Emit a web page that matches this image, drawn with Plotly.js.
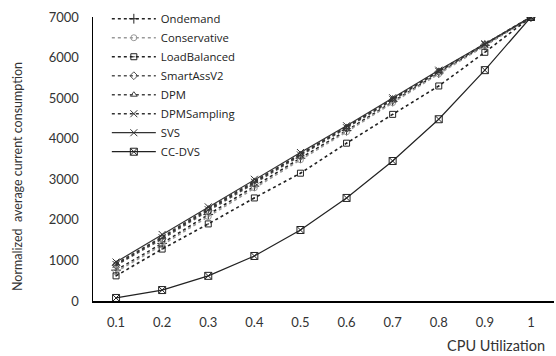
<!DOCTYPE html>
<html><head><meta charset="utf-8">
<script src="https://cdn.plot.ly/plotly-3.0.1.min.js"></script>
<style>html,body{margin:0;padding:0;background:#fff}#c{width:556px;height:356px}</style>
</head><body><div id="c"></div>
<script>
var xVals = [0.1,0.2,0.3,0.4,0.5,0.6,0.7,0.8,0.9,1];
var xTickText = ["0.1","0.2","0.3","0.4","0.5","0.6","0.7","0.8","0.9","1"];
var ondemand    = [760, 1420, 2130, 2830, 3520, 4200, 4920, 5620, 6300, 7000];
var conservative= [720, 1380, 2080, 2790, 3480, 4170, 4890, 5600, 6290, 7000];
var loadBalanced= [620, 1280, 1900, 2540, 3150, 3890, 4600, 5300, 6130, 7000];
var smartAssV2  = [880, 1530, 2220, 2900, 3570, 4250, 4950, 5650, 6320, 7000];
var dpm         = [920, 1580, 2280, 2960, 3620, 4290, 4990, 5670, 6330, 7000];
var dpmSampling = [900, 1560, 2250, 2930, 3600, 4270, 4970, 5660, 6320, 7000];
var svs         = [960, 1640, 2320, 3000, 3660, 4320, 5010, 5690, 6340, 7000];
var ccdvs       = [75, 270, 620, 1110, 1750, 2540, 3450, 4480, 5690, 7000];

function tr(name, y, dash, sym, color, msize){
  return {x:xVals, y:y, name:name, type:'scatter', mode:'lines+markers',
    line:{color:color, width:dash==='dot'?1.6:1.2, dash:dash},
    marker:{symbol:sym, size:msize||6, color:color, line:{color:color, width:1}}};
}
var data = [
  tr('Ondemand', ondemand, 'dot', 'cross-thin-open', '#222', 7),
  tr('Conservative', conservative, 'dot', 'circle-open', '#999'),
  tr('LoadBalanced', loadBalanced, 'dot', 'square-open-dot', '#222'),
  tr('SmartAssV2', smartAssV2, 'dot', 'diamond-open', '#555'),
  tr('DPM', dpm, 'dot', 'triangle-up-open', '#444'),
  tr('DPMSampling', dpmSampling, 'dot', 'x-thin-open', '#333', 7),
  tr('SVS', svs, 'solid', 'x-thin-open', '#333', 7),
  tr('CC-DVS', ccdvs, 'solid', 'square-x-open', '#222', 7)
];
var fam = 'Lato, "Open Sans", sans-serif';
var layout = {
  width:556, height:356, margin:{l:93, r:2, t:17, b:55},
  paper_bgcolor:'#fff', plot_bgcolor:'#fff', font:{family:fam, size:13, color:'#333'}, showlegend:true,
  xaxis:{range:[0.05,1.05], tickvals:xVals, ticktext:xTickText, showgrid:false, zeroline:false,
    showline:true, linecolor:'#000', linewidth:1.5, ticks:'', ticklabelstandoff:9,
    tickfont:{family:fam, size:13, color:'#333'}},
  yaxis:{range:[0,7000], dtick:1000, tick0:0, showgrid:false, zeroline:false,
    showline:true, linecolor:'#000', linewidth:1.5, ticks:'', ticklabelstandoff:10,
    tickfont:{family:fam, size:13, color:'#333'}},
  legend:{x:0.03, y:1.045, xanchor:'left', yanchor:'top', bgcolor:'rgba(0,0,0,0)',
    font:{family:'"Open Sans", sans-serif', size:11.3, color:'#222'}, tracegroupgap:0, itemwidth:44},
  annotations:[
    {text:'CPU Utilization', xref:'paper', yref:'paper', x:0.985, y:-0.155,
     xanchor:'right', yanchor:'middle', showarrow:false, font:{family:fam, size:14.5, color:'#333'}},
    {text:'Normalized  average current consumption', xref:'paper', yref:'paper', x:-0.165, y:0.44,
     xanchor:'center', yanchor:'middle', textangle:-90, showarrow:false, font:{family:fam, size:12.5, color:'#333'}}
  ]
};
Plotly.newPlot('c', data, layout, {displayModeBar:false, staticPlot:true});
</script></body></html>
